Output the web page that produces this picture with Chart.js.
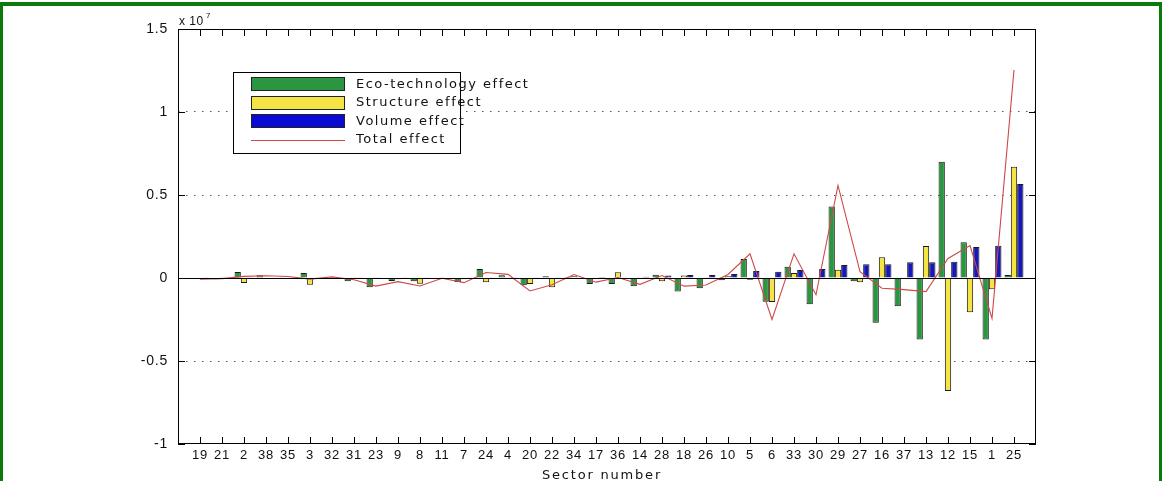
<!DOCTYPE html>
<html><head><meta charset="utf-8">
<script src="https://cdn.jsdelivr.net/npm/chart.js@4/dist/chart.umd.min.js"></script>
<style>
html,body{margin:0;padding:0;background:#fff;}
#wrap{position:relative;width:1163px;height:481px;overflow:hidden;background:#fff;}
#frame{position:absolute;left:0;top:2px;width:1156px;height:520px;border-top:4px solid #0b7a0b;border-left:3px solid #0b7a0b;border-right:3px solid #0b7a0b;pointer-events:none;}
canvas{position:absolute;left:0;top:0;}
</style></head><body>
<div id="wrap"><canvas id="c" width="1163" height="481"></canvas><div id="frame"></div></div>
<script>
// Values in units of 10^7
const sectors = ['19','21','2','38','35','3','32','31','23','9','8','11','7','24','4','20','22','34','17','36','14','28','18','26','10','5','6','33','30','29','27','16','37','13','12','15','1','25'];
const ecoTech   = [-0.005,-0.008, 0.036, 0.016, 0.004, 0.030, 0.003,-0.020,-0.056,-0.018,-0.020,-0.006,-0.024, 0.054, 0.016,-0.044, 0.010, 0.006,-0.036,-0.036,-0.050, 0.020,-0.082,-0.062,-0.013, 0.114,-0.143, 0.068,-0.158, 0.430,-0.020,-0.270,-0.170,-0.370, 0.700, 0.215,-0.370, 0.018];
const structure = [-0.004, 0.002,-0.030,-0.005, 0.003,-0.040, 0.002, 0.004, 0.004,-0.008,-0.034, 0.002,-0.008,-0.026, 0.002,-0.036,-0.056, 0.010, 0.005, 0.034, 0.004,-0.020, 0.015, 0.002, 0.010,-0.010,-0.145, 0.030, 0.003, 0.050,-0.025, 0.125, 0.005, 0.193,-0.680,-0.207,-0.068, 0.670];
const volume    = [ 0.002, 0.003, 0.004, 0.003, 0.002, 0.003, 0.002, 0.005, 0.003, 0.004, 0.004, 0.003, 0.004, 0.005, 0.004, 0.002, 0.005, 0.005, 0.006, 0.005, 0.008, 0.015, 0.018, 0.018, 0.024, 0.042, 0.038, 0.048, 0.054, 0.078, 0.083, 0.083, 0.095, 0.095, 0.098, 0.187, 0.195, 0.566];
const total     = [-0.007,-0.004, 0.010, 0.014, 0.009,-0.007, 0.007,-0.011,-0.049,-0.022,-0.048,-0.002,-0.028, 0.033, 0.022,-0.078,-0.041, 0.021,-0.025, 0.003,-0.038, 0.015,-0.049,-0.042, 0.021, 0.146,-0.250, 0.146,-0.101, 0.558, 0.038,-0.062,-0.070,-0.082, 0.118, 0.195,-0.243, 1.254];
const yTicks = [-1, -0.5, 0, 0.5, 1, 1.5];
const seriesNames = ['Eco-technology effect', 'Structure effect', 'Volume effect', 'Total effect'];
const xTitle = 'Sector number';

const colors = {eco:'#2a9640', str:'#f4e444', vol:'#1818b8', tot:'#d04848'};

// one empty slot each side, so the axis runs from 0 to n+1 like the original
const labels = ['', ...sectors, ''];
const pad = a => [null, ...a, null];

Chart.defaults.font.family = "'Liberation Sans', Arial, sans-serif";
Chart.defaults.color = '#111';

const matlabAxes = {
  id: 'matlabAxes',
  beforeDraw(chart) {
    chart.ctx.letterSpacing = '0.8px';
  },
  afterDatasetsDraw(chart) {
    const {ctx, chartArea: a, scales: {y}} = chart;
    ctx.save();
    ctx.fillStyle = '#000';
    const y0 = Math.round(y.getPixelForValue(0));
    ctx.fillRect(Math.round(a.left), y0, Math.round(a.right - a.left), 1);
    ctx.restore();
  },
  afterDraw(chart) {
    const {ctx, chartArea: a} = chart;
    const x = chart.scales.x, y = chart.scales.y;
    ctx.save();
    ctx.setLineDash([]);
    ctx.globalAlpha = 1;
    ctx.fillStyle = '#000';
    const L = Math.round(a.left), R = Math.round(a.right) - 1, T = Math.round(a.top), B = Math.round(a.bottom) - 1;
    // box
    ctx.fillRect(L, T, R - L + 1, 1);
    ctx.fillRect(L, B, R - L + 1, 1);
    ctx.fillRect(L, T, 1, B - T + 1);
    ctx.fillRect(R, T, 1, B - T + 1);
    // inward ticks
    ctx.fillStyle = '#000';
    const step = (a.right - a.left) / (labels.length - 1);
    for (let i = 1; i <= sectors.length; i++) {
      const px = Math.round(a.left + i * step);
      ctx.fillRect(px, T, 1, 7);
      ctx.fillRect(px, B - 6, 1, 7);
    }
    for (const v of yTicks) {
      const py = Math.round(y.getPixelForValue(v));
      ctx.fillRect(L, py, 7, 1);
      ctx.fillRect(R - 6, py, 7, 1);
    }

    // exponent label
    ctx.fillStyle = '#111';
    ctx.textAlign = 'left'; ctx.textBaseline = 'alphabetic';
    ctx.letterSpacing = '0.5px';
    ctx.font = "12px 'Liberation Sans'";
    ctx.fillText('x 10', a.left + 1, 25);
    ctx.font = "8px 'Liberation Sans'";
    ctx.fillText('7', a.left + 28, 18);

    // x title
    ctx.font = "13px 'DejaVu Sans'";
    ctx.letterSpacing = '1.8px';
    ctx.textAlign = 'center';
    ctx.fillText(xTitle, (a.left + a.right) / 2 - 5, 479);

    // legend
    const lx = 233, ly = 72, lw = 227, lh = 81;
    ctx.fillStyle = '#fff';
    ctx.fillRect(lx, ly, lw, lh);
    ctx.fillStyle = '#000';
    ctx.fillRect(lx, ly, lw, 1); ctx.fillRect(lx, ly + lh, lw, 1);
    ctx.fillRect(lx, ly, 1, lh); ctx.fillRect(lx + lw, ly, 1, lh + 1);
    const rows = [84, 102.5, 121, 139.5];
    const fills = [colors.eco, colors.str, '#0a0ad2'];
    ctx.textAlign = 'left'; ctx.textBaseline = 'middle';
    ctx.font = "13px 'DejaVu Sans'";
    ctx.letterSpacing = '1.5px';
    rows.forEach((ry, k) => {
      if (k < 3) {
        const top = Math.round(ry - 7);
        ctx.fillStyle = '#222';
        ctx.fillRect(251, top, 94, 14);
        ctx.fillStyle = fills[k];
        ctx.fillRect(252, top + 1, 92, 12);
      } else {
        ctx.fillStyle = colors.tot;
        ctx.fillRect(251, Math.round(ry), 94, 1);
      }
      ctx.fillStyle = '#111';
      ctx.fillText(seriesNames[k], 356, ry + 0.5);
    });
    ctx.restore();
  }
};

const barCommon = {borderColor: '#1a1a1a', borderWidth: 1, categoryPercentage: 0.86, barPercentage: 1.0, order: 2};

new Chart(document.getElementById('c'), {
  type: 'bar',
  data: {
    labels,
    datasets: [
      {label: seriesNames[0], data: pad(ecoTech), backgroundColor: colors.eco, ...barCommon},
      {label: seriesNames[1], data: pad(structure), backgroundColor: colors.str, ...barCommon},
      {label: seriesNames[2], data: pad(volume), backgroundColor: colors.vol, ...barCommon},
      {type: 'line', label: seriesNames[3], data: pad(total), borderColor: colors.tot, borderWidth: 1.1,
       pointRadius: 0, tension: 0, fill: false, spanGaps: false, order: 0}
    ]
  },
  options: {
    responsive: false, animation: false, devicePixelRatio: 1,
    layout: {padding: {top: 29, right: 127, left: 0, bottom: 0}},
    plugins: {legend: {display: false}, tooltip: {enabled: false}, title: {display: false}},
    scales: {
      x: {
        type: 'category', offset: false,
        grid: {display: false, drawTicks: false},
        border: {display: false},
        ticks: {autoSkip: false, maxRotation: 0, minRotation: 0, padding: 4, font: {size: 13}, color: '#111'},
        afterFit: s => { s.height = 37; }
      },
      y: {
        min: -1, max: 1.5,
        afterBuildTicks: s => { s.ticks = yTicks.map(v => ({value: v})); },
        grid: {drawTicks: false, lineWidth: 1,
               color: c => ([1, 0.5, -0.5].includes(c.tick && c.tick.value) ? '#555' : 'rgba(0,0,0,0)')},
        border: {display: false, dash: [1.5, 6.5]},
        ticks: {padding: 10, font: {size: 14}, color: '#111', callback: v => String(v)},
        afterFit: s => { s.width = 178; }
      }
    }
  },
  plugins: [matlabAxes]
});
</script>
</body></html>
